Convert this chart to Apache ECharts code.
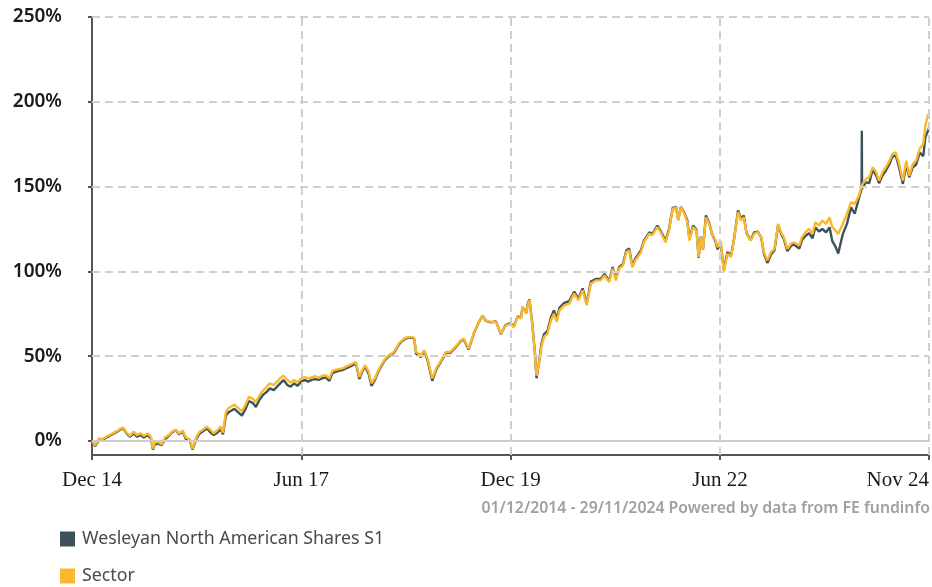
<!DOCTYPE html>
<html>
<head>
<meta charset="utf-8">
<script src="https://cdn.jsdelivr.net/npm/echarts@6/dist/echarts.min.js"></script>
<style>
  html, body { margin: 0; padding: 0; background: #fff; }
  #chart { width: 932px; height: 587px; }
</style>
</head>
<body>
<div id="chart"></div>
<script>
// dates of the sampled points
var dates = [
  "2014-12-01","2014-12-15","2015-01-01","2015-01-15","2015-02-01","2015-02-15","2015-03-01","2015-03-15",
  "2015-04-01","2015-04-15","2015-05-01","2015-05-15","2015-06-01","2015-06-15","2015-07-01","2015-07-15",
  "2015-08-01","2015-08-15","2015-08-24","2015-09-01","2015-09-15","2015-10-01","2015-10-15","2015-11-01",
  "2015-11-15","2015-12-01","2015-12-15","2016-01-01","2016-01-15","2016-02-01","2016-02-12","2016-03-01",
  "2016-03-15","2016-04-01","2016-04-15","2016-05-01","2016-05-15","2016-06-01","2016-06-15","2016-06-24",
  "2016-07-07","2016-07-19","2016-08-01","2016-08-13","2016-08-25","2016-09-15","2016-10-01","2016-10-15",
  "2016-11-01","2016-11-15","2016-12-01","2016-12-15","2017-01-01","2017-01-15","2017-02-01","2017-02-15",
  "2017-03-01","2017-03-15","2017-04-01","2017-04-15","2017-05-01","2017-05-15","2017-06-01","2017-06-15",
  "2017-07-01","2017-07-15","2017-08-01","2017-08-15","2017-09-01","2017-09-15","2017-10-01","2017-10-15",
  "2017-11-01","2017-11-15","2017-12-01","2017-12-15","2018-01-01","2018-01-15","2018-01-25","2018-02-09",
  "2018-02-22","2018-03-07","2018-03-22","2018-04-03","2018-04-18","2018-05-03","2018-05-28","2018-06-18",
  "2018-07-10","2018-08-01","2018-08-15","2018-09-01","2018-09-22","2018-10-06","2018-10-15","2018-11-04",
  "2018-11-19","2018-12-04","2018-12-24","2019-01-10","2019-02-01","2019-02-22","2019-03-13","2019-04-04",
  "2019-04-28","2019-05-10","2019-06-01","2019-06-25","2019-07-15","2019-08-01","2019-08-13","2019-09-07",
  "2019-09-28","2019-10-19","2019-11-10","2019-12-01","2019-12-15","2020-01-01","2020-01-15","2020-01-22",
  "2020-02-07","2020-02-13","2020-02-21","2020-03-04","2020-03-16","2020-03-23","2020-04-03","2020-04-13",
  "2020-04-25","2020-05-10","2020-05-25","2020-06-07","2020-06-19","2020-07-01","2020-07-22","2020-08-13",
  "2020-09-03","2020-09-22","2020-10-10","2020-10-28","2020-11-15","2020-12-07","2020-12-28","2021-01-13",
  "2021-02-03","2021-02-18","2021-03-04","2021-03-19","2021-04-04","2021-04-19","2021-05-01","2021-05-15",
  "2021-05-28","2021-06-22","2021-07-04","2021-07-28","2021-08-10","2021-09-01","2021-09-15","2021-10-07",
  "2021-10-22","2021-11-07","2021-11-22","2021-12-01","2021-12-13","2021-12-28","2022-01-10","2022-01-19",
  "2022-02-04","2022-02-19","2022-02-28","2022-03-10","2022-03-19","2022-04-01","2022-04-15","2022-04-28",
  "2022-05-13","2022-05-22","2022-06-04","2022-06-18","2022-07-04","2022-07-19","2022-08-01","2022-08-19",
  "2022-09-01","2022-09-13","2022-09-25","2022-10-13","2022-10-28","2022-11-13","2022-11-28","2022-12-10",
  "2022-12-25","2023-01-10","2023-01-25","2023-02-10","2023-02-22","2023-03-07","2023-03-22","2023-04-07",
  "2023-04-19","2023-05-13","2023-05-25","2023-06-10","2023-06-25","2023-07-10","2023-07-22","2023-08-07",
  "2023-08-22","2023-09-07","2023-09-22","2023-10-04","2023-10-19","2023-10-30","2023-11-19","2023-12-07",
  "2023-12-25","2024-01-10","2024-01-28","2024-02-09","2024-02-10","2024-02-11","2024-02-28","2024-03-13",
  "2024-03-28","2024-04-13","2024-04-25","2024-05-10","2024-05-25","2024-06-10","2024-06-22","2024-07-07",
  "2024-07-22","2024-08-07","2024-08-22","2024-09-04","2024-09-19","2024-10-04","2024-10-19","2024-11-04",
  "2024-11-13","2024-11-25","2024-11-29"
];

// cumulative performance, %
var fundValues = [
  0, -3, 1, 0.5, 2, 3, 4, 5,
  6.5, 7.5, 4.5, 2.5, 4.5, 2.5, 3.5, 2,
  3.5, 1.5, -5, -2, -1.5, -2.5, 1, 3,
  5, 6.5, 4, 5.5, 1, 0, -5, 1.5,
  4.5, 6, 7.5, 5, 3.5, 5, 7, 4,
  15, 17, 18, 19, 17.5, 15, 19, 23.5,
  22.5, 20, 24.5, 27, 29, 31, 30, 32,
  34, 36, 33, 32, 34, 32.5, 35, 36,
  35, 36, 36.5, 36, 37, 37.5, 35.5, 40,
  41, 41.5, 42, 43, 44, 45, 46, 36.5,
  41, 44, 39.5, 32.5, 36, 41, 47, 50,
  52, 57, 59, 60.5, 61, 60.5, 51.5, 49.5,
  53, 47.5, 35.5, 42, 47, 52, 52, 55,
  59, 60, 54, 64, 70, 74, 71, 70,
  70.5, 63, 68.5, 69.5, 67.5, 73.5, 72.5, 79,
  75.5, 80.5, 83.5, 70, 52, 37, 46.5, 57,
  63, 65, 73, 77, 72, 78.5, 81.5, 82.5,
  88, 84, 90, 81, 94, 95.5, 95.5, 98.5,
  94.5, 102.5, 95.5, 102.5, 104.5, 112.5, 113.5, 103,
  107.5, 112.5, 118, 123, 122, 127, 124, 118,
  125, 137.5, 138, 130.5, 138, 134.5, 130, 119,
  127, 124.5, 108, 120.5, 113, 133, 128.5, 122,
  117.5, 113, 117, 101, 111.5, 109, 118.5, 136,
  131, 133, 122.5, 118.5, 123, 123.5, 120, 110.5,
  105, 110, 112.5, 127.5, 122.5, 119, 112, 115,
  116, 113.5, 118.5, 121, 122.5, 119.5, 126, 123.5,
  125, 123, 126, 118, 114.3, 110.5, 122, 128,
  137.8, 134, 143, 148.6, 183, 149, 152.5, 152,
  160, 156.5, 152, 156.5, 159.5, 163.5, 167.5, 168.5,
  161, 151.6, 163, 155.6, 161.4, 163, 170, 168,
  179, 183, 184.5
];

var sectorValues = [
  0, -2.5, 1.5, 1, 2.5, 3.5, 4.5, 5.5,
  7, 8, 5, 3, 5.5, 3.5, 4.5, 3,
  4.5, 2.5, -4.5, -1, -0.5, -2, 2, 3.5,
  5.5, 6.5, 4.5, 6, 2, 1, -4.5, 2.5,
  5.5, 7, 8.5, 6.5, 4.5, 6.5, 8.5, 5,
  17, 19.5, 20.5, 21.5, 20, 17.5, 21.5, 26,
  25, 23, 27, 29.5, 32, 34, 33, 35,
  37, 38.5, 36, 34.5, 36, 34.5, 37, 37.8,
  36.9, 37.5, 38.2, 37.4, 38.5, 38.8, 36.9, 41.4,
  42, 42.5, 43, 44, 45, 46, 46.6, 37.8,
  41.8, 44.7, 40.8, 34, 36.9, 41.8, 47.6, 50.6,
  52.5, 57.5, 59.4, 61, 61.4, 61, 52.5, 50.6,
  53.5, 48.6, 36.9, 42.7, 47.6, 52.5, 52.5, 55.5,
  59.4, 60.4, 54.5, 64.3, 70.2, 74.1, 71.2, 70.2,
  70.2, 63.3, 68.2, 69, 67.2, 73.1, 72.2, 79,
  75.1, 80, 83, 69, 51.6, 38.5, 45.7, 55.5,
  61.4, 63.3, 71.2, 75.1, 70.2, 77, 80, 81,
  86.9, 82.9, 88.8, 80, 92.8, 94.7, 94.7, 97.6,
  93.7, 101.6, 94.7, 101.6, 103.5, 111.4, 112.4, 102.5,
  106.5, 111.4, 117.2, 122.2, 121.2, 126.1, 123.1, 117.2,
  124.1, 136.9, 137.8, 130, 137.8, 133.9, 129, 118.2,
  126.1, 124, 108.4, 120.2, 113.3, 131.9, 128, 122.2,
  118.2, 114.3, 118.2, 99.6, 110.4, 108.4, 118.2, 134.9,
  130, 131.9, 122.2, 118.2, 122.2, 123.1, 120.2, 111.4,
  106.5, 111.4, 113.3, 128, 123.1, 120.2, 113.3, 116.3,
  117.2, 115.3, 120.2, 123.1, 125.1, 122.2, 129, 127,
  130, 128, 131.9, 126.1, 124, 122, 128, 133.9,
  140.8, 139.8, 144.7, 150.4, 150.6, 150.8, 154.5, 155.5,
  161.4, 158.4, 153.5, 158.4, 161.4, 165.3, 169.2, 170.2,
  163.3, 153.5, 165.3, 156.5, 163.3, 165.3, 172.2, 175.1,
  185.9, 192.7, 190
];

var xTickDates = ["2014-12-01", "2017-06-01", "2019-12-01", "2022-06-01", "2024-11-29"];
var xTickLabels = ["Dec 14", "Jun 17", "Dec 19", "Jun 22", "Nov 24"];
var yTicks = [0, 50, 100, 150, 200, 250];

var fundName = "Wesleyan North American Shares S1";
var sectorName = "Sector";

var chart = echarts.init(document.getElementById("chart"), null, { renderer: "canvas" });

function toTime(d) {
  return +echarts.number.parseDate(d);
}

var times = dates.map(toTime);
var xTickTimes = xTickDates.map(toTime);

var gridLines = [];
yTicks.forEach(function (v) {
  gridLines.push({
    yAxis: v,
    lineStyle: v === 0
      ? { color: "#cccccc", width: 2, type: "solid" }
      : { color: "#cfcfcf", width: 2, type: [8, 5] }
  });
});
xTickTimes.slice(1).forEach(function (t) {
  gridLines.push({ xAxis: t, lineStyle: { color: "#cfcfcf", width: 2, type: [8, 5] } });
});

function legendItem(name, top) {
  return {
    orient: "vertical",
    left: 60,
    top: top,
    padding: 0,
    itemWidth: 15,
    itemHeight: 15,
    icon: "rect",
    selectedMode: false,
    data: [name],
    textStyle: { fontFamily: "Noto Sans", fontSize: 17.8, color: "#4a4a4a", padding: [0, 0, 0, 2] }
  };
}

chart.setOption({
  animation: false,
  backgroundColor: "#ffffff",
  grid: { left: 92, right: 2, top: 17, bottom: 132, containLabel: false },
  legend: [legendItem(fundName, 530), legendItem(sectorName, 567)],
  graphic: [
    {
      type: "text",
      right: 2,
      top: 500,
      style: {
        text: "01/12/2014 - 29/11/2024 Powered by data from FE fundinfo",
        fontFamily: "Noto Sans",
        fontWeight: 600,
        fontSize: 15.8,
        fill: "#a0a0a0"
      }
    }
  ],
  xAxis: {
    type: "value",
    min: times[0],
    max: times[times.length - 1],
    axisLine: { show: true, onZero: false, lineStyle: { color: "#555555", width: 2 } },
    axisTick: { show: true, length: 5, customValues: xTickTimes, lineStyle: { color: "#555555", width: 2 } },
    axisLabel: {
      customValues: xTickTimes,
      margin: 15,
      alignMaxLabel: "right",
      fontFamily: "Liberation Serif",
      fontSize: 21,
      color: "#1a1a1a",
      formatter: function (value) {
        var i = xTickTimes.indexOf(+value);
        return i >= 0 ? xTickLabels[i] : "";
      }
    },
    splitLine: { show: false }
  },
  yAxis: {
    type: "value",
    min: -8.25,
    max: 250,
    axisLine: { show: true, lineStyle: { color: "#555555", width: 2 } },
    axisTick: { show: true, length: 4, customValues: yTicks, lineStyle: { color: "#555555", width: 2 } },
    axisLabel: {
      customValues: yTicks,
      margin: 30,
      fontFamily: "Noto Sans",
      fontWeight: 600,
      fontSize: 19,
      color: "#1a1a1a",
      formatter: "{value}%"
    },
    splitLine: { show: false }
  },
  series: [
    {
      // only carries the grid lines, drawn under the data
      name: "grid",
      type: "line",
      z: 1,
      data: [],
      silent: true,
      markLine: {
        silent: true,
        symbol: "none",
        label: { show: false },
        emphasis: { disabled: true },
        data: gridLines
      }
    },
    {
      name: fundName,
      type: "line",
      z: 2,
      showSymbol: false,
      color: "#3d5259",
      lineStyle: { width: 2.4, color: "#3d5259" },
      data: times.map(function (t, i) { return [t, fundValues[i]]; })
    },
    {
      name: sectorName,
      type: "line",
      z: 3,
      showSymbol: false,
      color: "#fbb82c",
      lineStyle: { width: 2.4, color: "#fbb82c" },
      data: times.map(function (t, i) { return [t, sectorValues[i]]; })
    }
  ]
});
</script>
</body>
</html>
